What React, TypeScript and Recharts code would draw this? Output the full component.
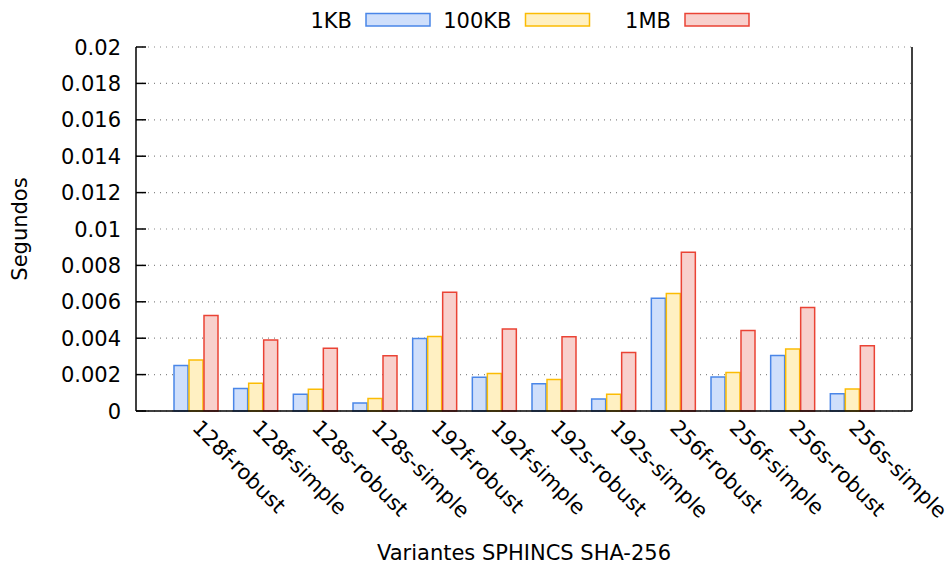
import React from 'react';
import { BarChart, Bar, XAxis, YAxis, CartesianGrid, Legend, Label } from 'recharts';

const categories = ['128f-robust', '128f-simple', '128s-robust', '128s-simple', '192f-robust', '192f-simple', '192s-robust', '192s-simple', '256f-robust', '256f-simple', '256s-robust', '256s-simple'];
const kb1 = [0.0025, 0.00123, 0.00092, 0.00044, 0.00398, 0.00185, 0.0015, 0.00066, 0.00619, 0.00187, 0.00305, 0.00095];
const kb100 = [0.0028, 0.00152, 0.0012, 0.00068, 0.0041, 0.00206, 0.00173, 0.00092, 0.00646, 0.00211, 0.0034, 0.00121];
const mb1 = [0.00525, 0.0039, 0.00345, 0.00303, 0.00652, 0.0045, 0.00408, 0.00321, 0.00872, 0.00442, 0.00569, 0.00358];
const seriesNames = ['1KB', '100KB', '1MB'];
const yTicks = [0, 0.002, 0.004, 0.006, 0.008, 0.01, 0.012, 0.014, 0.016, 0.018, 0.02];
const yTickLabels = ['0', '0.002', '0.004', '0.006', '0.008', '0.01', '0.012', '0.014', '0.016', '0.018', '0.02'];

const data = categories.map((name, i) => ({ name, k1: kb1[i], k100: kb100[i], m1: mb1[i] }));

const FONT = 'DejaVu Sans';
const FS = 21;
const fills = ['#cfdffb', '#fff0c2', '#f8d0cc'];
const strokes = ['#4a86e8', '#fbbc04', '#ea4335'];

const LeftTick = (props: any) => {
  const { x, y, payload } = props;
  const idx = yTicks.indexOf(payload.value);
  return (
    <g>
      <line x1={x + 15} x2={x + 25} y1={y} y2={y} stroke="#000" strokeWidth={1.5} />
      <text x={x} y={y} dy="0.36em" textAnchor="end" fontFamily={FONT} fontSize={FS} fill="#000">
        {idx >= 0 ? yTickLabels[idx] : String(payload.value)}
      </text>
    </g>
  );
};

const RightTick = (props: any) => {
  const { x, y } = props;
  return <line x1={x - 10} x2={x} y1={y} y2={y} stroke="#000" strokeWidth={1.5} />;
};

const XTick = (props: any) => {
  const { x, y, payload } = props;
  return (
    <g transform={`translate(${x - 4.5},${y + 18})`}>
      <text x={0} y={0} transform="rotate(45)" textAnchor="start" fontFamily={FONT} fontSize={FS} fill="#000">
        {payload.value}
      </text>
    </g>
  );
};

const LegendContent = () => (
  <svg width={950} height={40}>
    {seriesNames.map((n, i) => {
      const bx = 366 + i * 159.5;
      return (
        <g key={n}>
          <text x={bx - 14} y={28} textAnchor="end" fontFamily={FONT} fontSize={FS} fill="#000">{n}</text>
          <rect x={bx} y={13.5} width={64} height={12.5} fill={fills[i]} stroke={strokes[i]} strokeWidth={1.5} />
        </g>
      );
    })}
  </svg>
);

const YLabel = (props: any) => {
  const vb = props.viewBox || { x: 0, y: 47, width: 136, height: 364 };
  const cx = vb.x + 27;
  const cy = vb.y + vb.height / 2;
  return (
    <text x={cx} y={cy} transform={`rotate(-90, ${cx}, ${cy})`} textAnchor="middle" fontFamily={FONT} fontSize={FS} fill="#000">
      Segundos
    </text>
  );
};

export default function App() {
  return (
    <div style={{ position: 'absolute', left: 0, top: 0, width: 950, height: 568, background: '#fff' }}>
      <BarChart width={950} height={568} data={data} margin={{ top: 47, right: 0, bottom: 0, left: 0 }} barGap={1}>
        <CartesianGrid horizontal vertical={false} strokeDasharray="1 5" stroke="#888" strokeWidth={1.2} />
        <XAxis
          dataKey="name"
          height={157}
          interval={0}
          padding={{ left: 30, right: 30 }}
          tickLine={false}
          tickSize={0}
          tickMargin={0}
          axisLine={{ stroke: '#000', strokeWidth: 1.5 }}
          tick={<XTick />}
        >
          <Label value="Variantes SPHINCS SHA-256" position="insideBottom" offset={8} fontFamily={FONT} fontSize={FS} fill="#000" />
        </XAxis>
        <XAxis
          xAxisId="top"
          dataKey="name"
          orientation="top"
          height={0}
          tick={false}
          tickLine={false}
          axisLine={{ stroke: '#000', strokeWidth: 1.5 }}
        />
        <YAxis
          width={136}
          domain={[0, 0.02]}
          ticks={yTicks}
          interval={0}
          tickSize={0}
          tickMargin={15}
          tickLine={false}
          axisLine={{ stroke: '#000', strokeWidth: 1.5 }}
          tick={<LeftTick />}
        >
          <Label content={<YLabel />} />
        </YAxis>
        <YAxis
          yAxisId="right"
          orientation="right"
          width={38}
          domain={[0, 0.02]}
          ticks={yTicks}
          interval={0}
          tickSize={0}
          tickMargin={0}
          tickLine={false}
          axisLine={{ stroke: '#000', strokeWidth: 1.5 }}
          tick={<RightTick />}
        />
        <Legend
          layout="horizontal"
          verticalAlign="middle"
          align="center"
          wrapperStyle={{ top: 0, left: 0, width: 950, height: 40 }}
          content={<LegendContent />}
        />
        <Bar dataKey="k1" name={seriesNames[0]} fill={fills[0]} stroke={strokes[0]} strokeWidth={1.5} barSize={14} isAnimationActive={false} />
        <Bar dataKey="k100" name={seriesNames[1]} fill={fills[1]} stroke={strokes[1]} strokeWidth={1.5} barSize={14} isAnimationActive={false} />
        <Bar dataKey="m1" name={seriesNames[2]} fill={fills[2]} stroke={strokes[2]} strokeWidth={1.5} barSize={14} isAnimationActive={false} />
      </BarChart>
    </div>
  );
}
